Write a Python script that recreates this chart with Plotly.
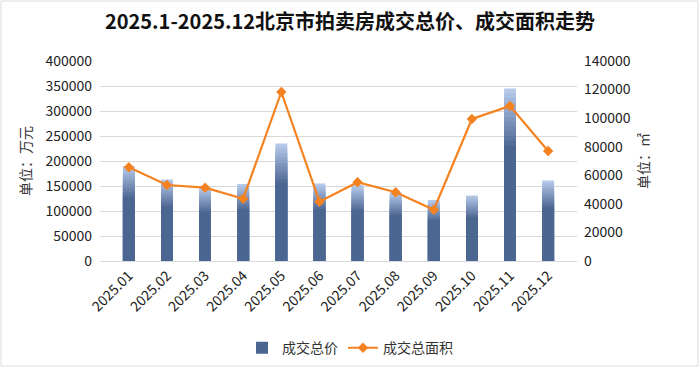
import plotly.graph_objects as go

months = ["2025.01", "2025.02", "2025.03", "2025.04", "2025.05", "2025.06",
          "2025.07", "2025.08", "2025.09", "2025.10", "2025.11", "2025.12"]
total_price = [190000, 163000, 147000, 154000, 235000, 155000,
               152000, 137000, 122000, 131000, 345000, 161000]
total_area = [65600, 53200, 51300, 43600, 118300, 41500,
              55100, 48100, 35900, 99400, 108500, 77000]

left_ticks = [0, 50000, 100000, 150000, 200000, 250000, 300000, 350000, 400000]
right_ticks = [0, 20000, 40000, 60000, 80000, 100000, 120000, 140000]

FONT = "Noto Sans CJK SC"
DARK = (76, 102, 146)
LIGHT = (180, 200, 232)

fig = go.Figure()
# gradient: nested bars, tallest/lightest first, darker & shorter on top (derived from data)
N = 12
FRAC = 0.33
for k in range(N):
    t = k / N
    c = tuple(round(LIGHT[i] + (DARK[i] - LIGHT[i]) * t) for i in range(3))
    fig.add_trace(go.Bar(
        x=months, y=[v * (1 - FRAC * k / N) for v in total_price],
        marker=dict(color="rgb(%d,%d,%d)" % c, line=dict(width=0)),
        showlegend=False, hoverinfo="skip", yaxis="y",
    ))
# dark body (legend entry)
fig.add_trace(go.Bar(
    x=months, y=[v * (1 - FRAC) for v in total_price], name="成交总价",
    customdata=total_price, hovertemplate="%{x}: %{customdata}<extra></extra>",
    marker=dict(color="rgb(%d,%d,%d)" % DARK, line=dict(width=0)),
    yaxis="y",
))

fig.add_trace(go.Scatter(
    x=months, y=total_area, name="成交总面积",
    mode="lines+markers",
    line=dict(color="#f58220", width=2.2),
    marker=dict(symbol="diamond", size=8, color="#f58220"),
    yaxis="y2",
))

fig.update_layout(
    width=700, height=368, autosize=False,
    margin=dict(l=100, r=123, t=61, b=107),
    paper_bgcolor="white", plot_bgcolor="white",
    font=dict(family=FONT, size=14, color="#222"),
    title=dict(text="<b>2025.1-2025.12北京市拍卖房成交总价、成交面积走势</b>",
               x=0.5, xanchor="center", y=0.94, yanchor="middle",
               font=dict(size=20, color="#111", family=FONT)),
    barmode="overlay",
    bargap=0.69,
    showlegend=True,
    legend=dict(orientation="h", x=0.5, xanchor="center", xref="container",
                y=0.054, yanchor="middle", yref="container",
                font=dict(size=14, color="#333"), traceorder="normal"),
    xaxis=dict(tickangle=-45, showgrid=False, showline=True, linecolor="#d9d9d9",
               ticks="", automargin=False, tickfont=dict(size=14, color="#222")),
    yaxis=dict(range=[0, 400000], tickvals=left_ticks,
               ticktext=[str(v) for v in left_ticks],
               showgrid=True, gridcolor="#d9d9d9", automargin=False,
               zeroline=False, ticks="", ticklabelstandoff=7,
               tickfont=dict(size=14, color="#222"),
               title=dict(text="单位：万元", font=dict(size=14, color="#333"), standoff=10)),
    yaxis2=dict(range=[0, 140000], tickvals=right_ticks,
                ticktext=[str(v) for v in right_ticks],
                overlaying="y", side="right", automargin=False,
                showgrid=False, zeroline=False, ticks="", ticklabelstandoff=6,
                tickfont=dict(size=14, color="#222"),
                title=dict(text="单位：㎡", font=dict(size=14, color="#333"), standoff=9)),
)

fig.add_shape(type="rect", xref="paper", yref="paper", x0=-0.2075, x1=1.2537, y0=-0.525, y1=1.3,
              line=dict(color="#dcdcdc", width=1))

fig.write_html(
    "out.html",
    config={"responsive": False, "displayModeBar": False},
    post_script="document.documentElement.style.margin='0';document.body.style.margin='0';"
                "document.documentElement.style.overflow='hidden';document.body.style.overflow='hidden';",
)
